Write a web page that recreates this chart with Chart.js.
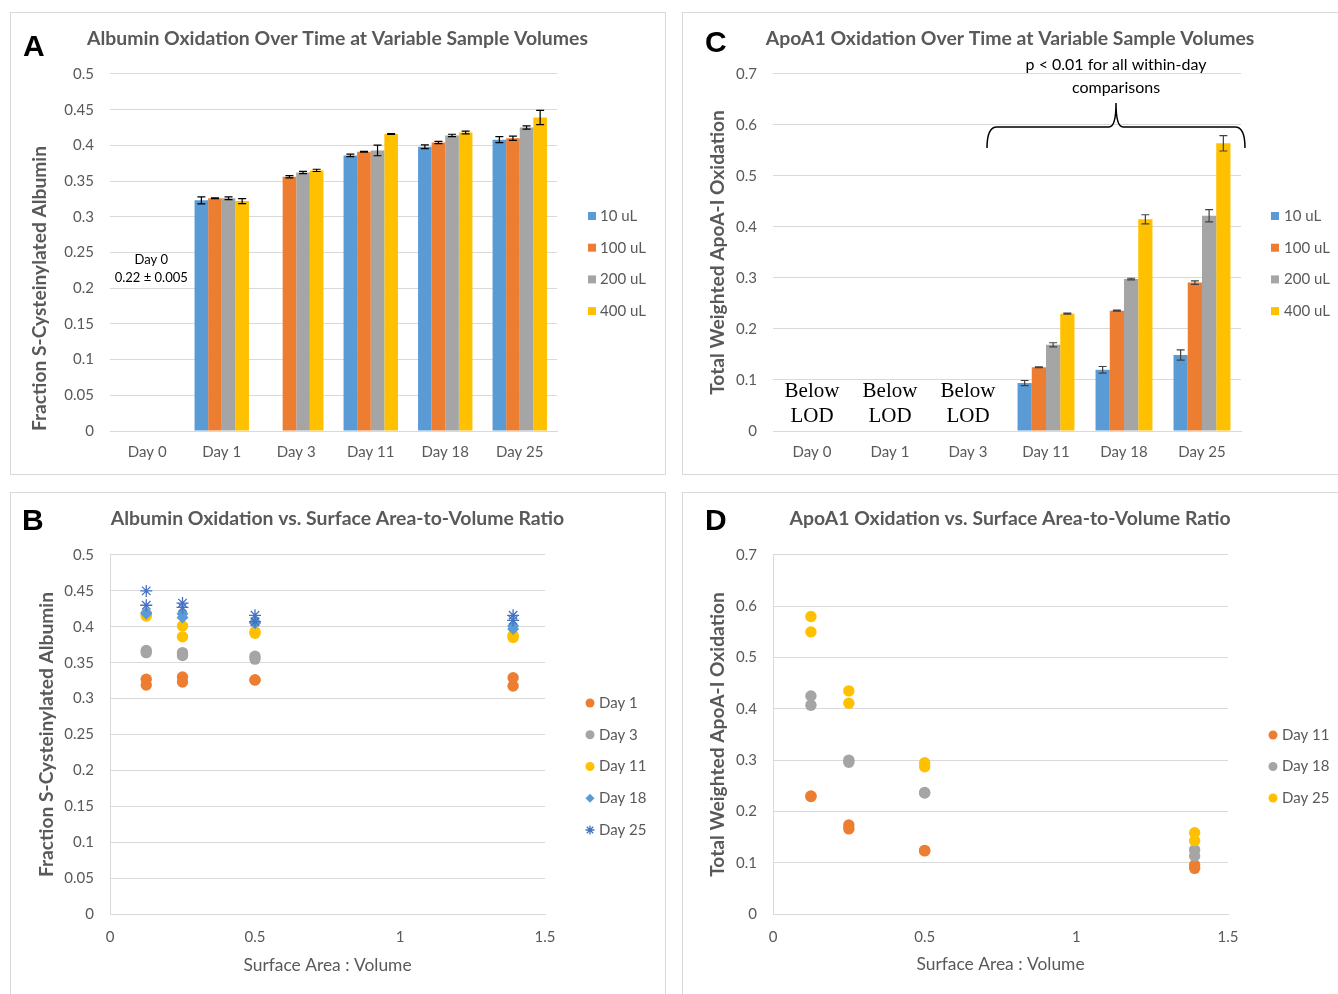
<!DOCTYPE html>
<html>
<head>
<meta charset="utf-8">
<script src="https://cdn.jsdelivr.net/npm/chart.js@4.4.1/dist/chart.umd.min.js"></script>
<style>
  body { margin: 0; background: #fff; width: 1338px; height: 994px; overflow: hidden; position: relative; }
  .panel { position: absolute; border: 1px solid #d9d9d9; box-sizing: border-box; }
  .wrap { position: absolute; }
  .letter { position: absolute; font: bold 30px "Liberation Sans", Arial, sans-serif; line-height: 30px; color: #000; }
</style>
</head>
<body>
<div class="panel" style="left:10px;top:12px;width:656px;height:463px"></div>
<div class="panel" style="left:682px;top:12px;width:660px;height:463px"></div>
<div class="panel" style="left:10px;top:492px;width:656px;height:520px"></div>
<div class="panel" style="left:682px;top:492px;width:660px;height:520px"></div>

<div class="wrap" style="left:10px;top:12px;width:655px;height:462px"><canvas id="chartA"></canvas></div>
<div class="wrap" style="left:682px;top:12px;width:656px;height:462px"><canvas id="chartC"></canvas></div>
<div class="wrap" style="left:10px;top:492px;width:655px;height:502px"><canvas id="chartB"></canvas></div>
<div class="wrap" style="left:682px;top:492px;width:656px;height:502px"><canvas id="chartD"></canvas></div>

<div class="letter" style="left:23px;top:31px">A</div>
<div class="letter" style="left:705px;top:27px">C</div>
<div class="letter" style="left:22px;top:505px">B</div>
<div class="letter" style="left:705px;top:505px">D</div>

<script>
const GRID = '#d9d9d9';
const TEXT = '#595959';
const FONT = 'Lato, "Open Sans", sans-serif';

// categories
const dayLabels = ['Day 0', 'Day 1', 'Day 3', 'Day 11', 'Day 18', 'Day 25'];
const volumeLabels = ['10 uL', '100 uL', '200 uL', '400 uL'];
const volumeColors = ['#5b9bd5', '#ed7d31', '#a5a5a5', '#ffc000'];

// A: albumin, fraction S-cysteinylated
const alb10 = [null, 0.323, null, 0.386, 0.398, 0.408];
const alb100 = [null, 0.326, 0.356, 0.391, 0.404, 0.410];
const alb200 = [null, 0.326, 0.362, 0.393, 0.414, 0.425];
const alb400 = [null, 0.322, 0.365, 0.416, 0.418, 0.439];
const alb10Err = [0, 0.005, 0, 0.0017, 0.0026, 0.0042];
const alb100Err = [0, 0.0005, 0.0016, 0.0005, 0.0016, 0.003];
const alb200Err = [0, 0.002, 0.0016, 0.0075, 0.0016, 0.0023];
const alb400Err = [0, 0.0035, 0.0016, 0.0005, 0.002, 0.01];

// C: apoA-I, total weighted oxidation
const apo10 = [null, null, null, 0.094, 0.120, 0.149];
const apo100 = [null, null, null, 0.125, 0.236, 0.291];
const apo200 = [null, null, null, 0.169, 0.298, 0.422];
const apo400 = [null, null, null, 0.230, 0.415, 0.564];
const apo10Err = [0, 0, 0, 0.005, 0.0065, 0.01];
const apo100Err = [0, 0, 0, 0.001, 0.001, 0.0035];
const apo200Err = [0, 0, 0, 0.004, 0.0015, 0.012];
const apo400Err = [0, 0, 0, 0.001, 0.009, 0.015];

// B: albumin vs surface area : volume (two replicates per volume)
const savAll = [0.125, 0.125, 0.25, 0.25, 0.5, 0.5, 1.39, 1.39];
const savNo10 = [0.125, 0.125, 0.25, 0.25, 0.5, 0.5];
const albSavDay1 = [0.327, 0.319, 0.330, 0.323, 0.326, 0.326, 0.329, 0.3175];
const albSavDay3 = [0.367, 0.364, 0.364, 0.360, 0.359, 0.355];
const albSavDay11 = [0.417, 0.415, 0.401, 0.386, 0.393, 0.391, 0.388, 0.385];
const albSavDay18 = [0.420, 0.418, 0.418, 0.413, 0.407, 0.405, 0.401, 0.397];
const albSavDay25 = [0.450, 0.430, 0.433, 0.427, 0.416, 0.407, 0.416, 0.409];

// D: apoA-I vs surface area : volume
const apoSavDay11 = [0.230, 0.229, 0.1735, 0.166, 0.124, 0.123, 0.0955, 0.089];
const apoSavDay18 = [0.425, 0.407, 0.300, 0.296, 0.237, 0.236, 0.125, 0.113];
const apoSavDay25 = [0.580, 0.550, 0.435, 0.411, 0.295, 0.287, 0.1585, 0.143];

const fmt = v => String(+(+v).toFixed(3));
const pts = (xs, ys) => xs.map((x, i) => ({ x: x, y: ys[i] }));

function spacer(width) {
  return {
    type: 'linear', position: 'right', display: true,
    ticks: { display: false }, grid: { display: false }, border: { display: false },
    afterFit: s => { s.width = width; }
  };
}

function yAxis(max, step, width, title, titlePad, align) {
  return {
    min: 0, max: max,
    ticks: { stepSize: step, callback: fmt, color: TEXT, font: { family: FONT, size: 15 }, padding: 16 },
    grid: { color: GRID, drawTicks: false },
    border: { display: false },
    title: { display: true, text: title, color: TEXT, align: align,
             font: { family: FONT, size: 19.2, weight: 'bold' }, padding: { top: titlePad } },
    afterFit: s => { s.width = width; }
  };
}

function chartTitle(text, bottom) {
  return { display: true, text: text, color: TEXT,
           font: { family: FONT, size: 19.4, weight: 'bold' }, padding: { top: 15.4, bottom: bottom } };
}

function drawLegend(chart, x, textX, y0, dy, boxes) {
  const ctx = chart.ctx;
  ctx.save();
  ctx.font = '15px ' + FONT;
  ctx.textBaseline = 'middle';
  ctx.textAlign = 'left';
  chart.data.datasets.forEach((ds, i) => {
    const y = y0 + i * dy;
    if (boxes) {
      ctx.fillStyle = ds.backgroundColor;
      ctx.fillRect(x, y - 4, 8, 8);
    } else {
      ctx.fillStyle = ds.backgroundColor;
      ctx.strokeStyle = ds.borderColor;
      ctx.lineWidth = ds.borderWidth || 0;
      Chart.helpers.drawPoint(ctx, { pointStyle: ds.pointStyle, radius: 4.5, rotation: 0,
                                     borderWidth: ds.borderWidth || 0 }, x, y);
    }
    ctx.fillStyle = TEXT;
    ctx.fillText(ds.label, textX, y);
  });
  ctx.restore();
}

function drawErrors(chart, errs, color) {
  const ctx = chart.ctx;
  const ys = chart.scales.y;
  ctx.save();
  ctx.strokeStyle = color;
  ctx.lineWidth = 1.2;
  chart.data.datasets.forEach((ds, i) => {
    chart.getDatasetMeta(i).data.forEach((bar, j) => {
      const v = ds.data[j];
      const e = errs[i][j];
      if (v == null || !e) return;
      const hi = ys.getPixelForValue(v + e);
      const lo = ys.getPixelForValue(v - e);
      ctx.beginPath();
      ctx.moveTo(bar.x, hi); ctx.lineTo(bar.x, lo);
      ctx.moveTo(bar.x - 4, hi); ctx.lineTo(bar.x + 4, hi);
      ctx.moveTo(bar.x - 4, lo); ctx.lineTo(bar.x + 4, lo);
      ctx.stroke();
    });
  });
  ctx.restore();
}

function barSets(series) {
  return series.map((data, i) => ({
    label: volumeLabels[i], data: data, backgroundColor: volumeColors[i], borderWidth: 0,
    barPercentage: 1, categoryPercentage: 0.73
  }));
}

function barX() {
  return {
    grid: { display: false, drawTicks: false },
    border: { display: true, color: GRID },
    ticks: { color: TEXT, font: { family: FONT, size: 15 }, padding: 12 },
    afterFit: s => { s.height = 43; }
  };
}

const base = {
  responsive: true, maintainAspectRatio: false, animation: false,
  plugins: { legend: { display: false }, tooltip: { enabled: false } }
};

// ---------- A
new Chart(document.getElementById('chartA'), {
  type: 'bar',
  data: { labels: dayLabels, datasets: barSets([alb10, alb100, alb200, alb400]) },
  options: {
    ...base,
    plugins: { ...base.plugins, title: chartTitle('Albumin Oxidation Over Time at Variable Sample Volumes', 23.3) },
    scales: {
      x: barX(),
      y: yAxis(0.5, 0.05, 100, 'Fraction S-Cysteinylated Albumin', 18.5, 'start'),
      pad: spacer(108)
    }
  },
  plugins: [{
    id: 'extrasA',
    afterDatasetsDraw(chart) {
      drawErrors(chart, [alb10Err, alb100Err, alb200Err, alb400Err], '#000');
    },
    afterDraw(chart) {
      const ctx = chart.ctx, xs = chart.scales.x, ys = chart.scales.y;
      ctx.save();
      ctx.font = '13px ' + FONT;
      ctx.fillStyle = '#000';
      ctx.textAlign = 'center';
      ctx.textBaseline = 'middle';
      const cx = xs.getPixelForValue(0) + 4;
      ctx.fillText('Day 0', cx, ys.getPixelForValue(0.24));
      ctx.fillText('0.22 \u00b1 0.005', cx, ys.getPixelForValue(0.215));
      ctx.restore();
      drawLegend(chart, 578, 590, 204, 31.7, true);
    }
  }]
});

// ---------- C
new Chart(document.getElementById('chartC'), {
  type: 'bar',
  data: { labels: dayLabels, datasets: barSets([apo10, apo100, apo200, apo400]) },
  options: {
    ...base,
    plugins: { ...base.plugins, title: chartTitle('ApoA1 Oxidation Over Time at Variable Sample Volumes', 23.3) },
    scales: {
      x: barX(),
      y: yAxis(0.7, 0.1, 91, 'Total Weighted ApoA-I Oxidation', 24.5, 'center'),
      pad: spacer(97)
    }
  },
  plugins: [{
    id: 'extrasC',
    afterDatasetsDraw(chart) {
      drawErrors(chart, [apo10Err, apo100Err, apo200Err, apo400Err], '#404040');
    },
    afterDraw(chart) {
      const ctx = chart.ctx, xs = chart.scales.x, ys = chart.scales.y;
      ctx.save();
      ctx.fillStyle = '#000';
      ctx.textAlign = 'center';
      ctx.textBaseline = 'middle';
      ctx.font = '21px "Liberation Serif", "DejaVu Serif", serif';
      [0, 1, 2].forEach(i => {
        const cx = xs.getPixelForValue(i);
        ctx.fillText('Below', cx, ys.getPixelForValue(0.077));
        ctx.fillText('LOD', cx, ys.getPixelForValue(0.028));
      });
      // brace over Day 11 - Day 25
      const L = xs.getPixelForValue(3) - 59, R = xs.getPixelForValue(5) + 43, M = (L + R) / 2;
      const yb = ys.getPixelForValue(0.596), ye = ys.getPixelForValue(0.555), yt = ys.getPixelForValue(0.643);
      ctx.strokeStyle = '#000';
      ctx.lineWidth = 1.5;
      ctx.beginPath();
      ctx.moveTo(L, ye);
      ctx.quadraticCurveTo(L, yb, L + 10, yb);
      ctx.lineTo(M - 7, yb);
      ctx.quadraticCurveTo(M, yb, M, yt);
      ctx.quadraticCurveTo(M, yb, M + 7, yb);
      ctx.lineTo(R - 10, yb);
      ctx.quadraticCurveTo(R, yb, R, ye);
      ctx.stroke();
      ctx.font = '16px ' + FONT;
      ctx.fillText('p < 0.01 for all within-day', M, ys.getPixelForValue(0.718));
      ctx.fillText('comparisons', M, ys.getPixelForValue(0.673));
      ctx.restore();
      drawLegend(chart, 589, 602, 204, 31.7, true);
    }
  }]
});

function scatterX(titlePad) {
  return {
    type: 'linear', min: 0, max: 1.5,
    ticks: { stepSize: 0.5, callback: fmt, color: TEXT, font: { family: FONT, size: 15 }, padding: 14 },
    grid: { display: false, drawTicks: false },
    border: { display: true, color: GRID },
    title: { display: true, text: 'Surface Area : Volume', color: TEXT,
             font: { family: FONT, size: 17.4 }, padding: { bottom: titlePad } },
    afterFit: s => { s.height = 80; }
  };
}

function scatterY(max, step, width, title, titlePad) {
  const y = yAxis(max, step, width, title, titlePad, 'center');
  y.border = { display: true, color: GRID };
  return y;
}

function dot(label, data, color, order) {
  return { label: label, data: data, backgroundColor: color, borderColor: color, borderWidth: 0,
           pointStyle: 'circle', pointRadius: 5.7, order: order };
}

// ---------- B
new Chart(document.getElementById('chartB'), {
  type: 'scatter',
  data: {
    datasets: [
      dot('Day 1', pts(savAll, albSavDay1), '#ed7d31', 5),
      dot('Day 3', pts(savNo10, albSavDay3), '#a5a5a5', 4),
      dot('Day 11', pts(savAll, albSavDay11), '#ffc000', 3),
      { label: 'Day 18', data: pts(savAll, albSavDay18), backgroundColor: '#5b9bd5', borderColor: '#5b9bd5',
        borderWidth: 0, pointStyle: 'rectRot', pointRadius: 6, order: 2 },
      { label: 'Day 25', data: pts(savAll, albSavDay25), backgroundColor: '#4472c4', borderColor: '#4472c4',
        borderWidth: 1.3, pointStyle: 'star', pointRadius: 6, order: 1 }
    ]
  },
  options: {
    ...base,
    plugins: { ...base.plugins, title: chartTitle('Albumin Oxidation vs. Surface Area-to-Volume Ratio', 24.3) },
    scales: {
      x: scatterX(18.6),
      y: scatterY(0.5, 0.05, 100, 'Fraction S-Cysteinylated Albumin', 25.5),
      pad: spacer(120)
    }
  },
  plugins: [{
    id: 'extrasB',
    afterDraw(chart) { drawLegend(chart, 580, 589, 211, 31.75, false); }
  }]
});

// ---------- D
new Chart(document.getElementById('chartD'), {
  type: 'scatter',
  data: {
    datasets: [
      dot('Day 11', pts(savAll, apoSavDay11), '#ed7d31', 3),
      dot('Day 18', pts(savAll, apoSavDay18), '#a5a5a5', 2),
      dot('Day 25', pts(savAll, apoSavDay25), '#ffc000', 1)
    ]
  },
  options: {
    ...base,
    plugins: { ...base.plugins, title: chartTitle('ApoA1 Oxidation vs. Surface Area-to-Volume Ratio', 24.3) },
    scales: {
      x: scatterX(19.6),
      y: scatterY(0.7, 0.1, 91, 'Total Weighted ApoA-I Oxidation', 24.5),
      pad: spacer(110)
    }
  },
  plugins: [{
    id: 'extrasD',
    afterDraw(chart) { drawLegend(chart, 591, 600, 243, 31.5, false); }
  }]
});
</script>
</body>
</html>
